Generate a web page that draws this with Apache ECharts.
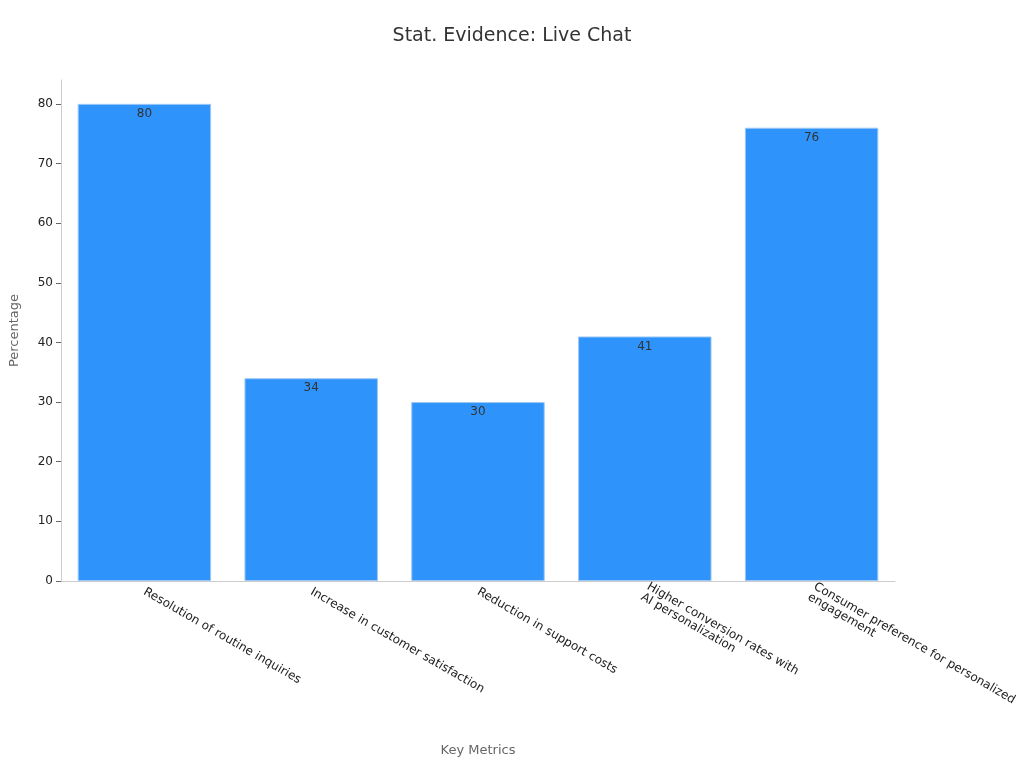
<!DOCTYPE html>
<html><head><meta charset="utf-8">
<script src="https://cdn.jsdelivr.net/npm/echarts@6/dist/echarts.min.js"></script>
<style>html,body{margin:0;padding:0}#c{width:1024px;height:768px}</style>
</head><body><div id="c"></div>
<script>
const categories = ["Resolution of routine inquiries","Increase in customer satisfaction","Reduction in support costs","Higher conversion rates with\nAI personalization","Consumer preference for personalized\nengagement"];
const values = [80,34,30,41,76];
const chart = echarts.init(document.getElementById('c'));
chart.setOption({
  textStyle:{fontFamily:'DejaVu Sans'},
  title:{text:'Stat. Evidence: Live Chat',left:'center',top:22,textStyle:{fontSize:19,fontWeight:'normal',color:'#333',fontFamily:'DejaVu Sans'}},
  grid:{left:61,right:129,top:80,bottom:187},
  xAxis:{type:'category',data:categories,name:'Key Metrics',nameLocation:'middle',nameGap:163,
    nameTextStyle:{color:'#666',fontSize:13},
    axisLine:{lineStyle:{color:'#ccc'}},axisTick:{alignWithLabel:true,lineStyle:{color:'#666'}},
    axisLabel:{rotate:-30,color:'#222',fontSize:12,interval:0,margin:10}},
  yAxis:{type:'value',min:0,max:84,interval:10,name:'Percentage',nameLocation:'middle',nameGap:40,
    nameTextStyle:{color:'#666',fontSize:13},
    axisLine:{show:true,lineStyle:{color:'#ccc'}},axisTick:{show:true,lineStyle:{color:'#666'}},
    axisLabel:{color:'#222',fontSize:12,showMaxLabel:false},splitLine:{show:false}},
  series:[{type:'bar',data:values,barWidth:'80%',
    itemStyle:{color:'#2E93FA',borderColor:'#9CC8F5',borderWidth:1},
    label:{show:true,position:'insideTop',color:'#333',fontSize:12,distance:4}}]
});
</script></body></html>
